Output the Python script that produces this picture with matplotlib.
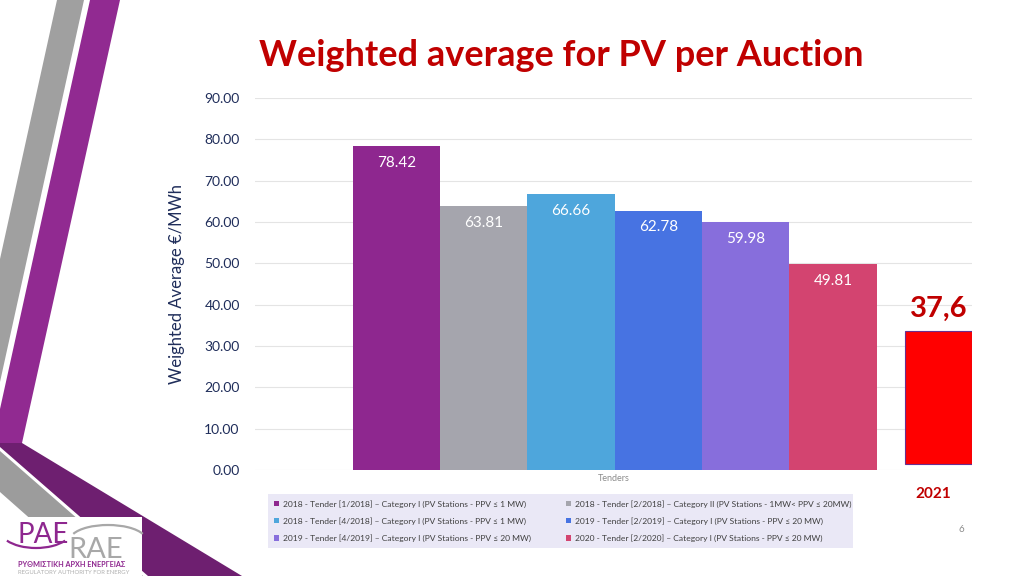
import numpy as np
import matplotlib
matplotlib.use("Agg")
import matplotlib.pyplot as plt
from matplotlib.patches import Polygon, Rectangle, Arc

plt.rcParams['font.family'] = ['Lato', 'DejaVu Sans']

# data
series_labels = [
    "2018 - Tender [1/2018] – Category I (PV Stations - PPV ≤ 1 MW)",
    "2018 - Tender [2/2018] – Category II (PV Stations - 1MW< PPV ≤ 20MW)",
    "2018 - Tender [4/2018] – Category I (PV Stations - PPV ≤ 1 MW)",
    "2019 - Tender [2/2019] – Category I (PV Stations - PPV ≤ 20 MW)",
    "2019 - Tender [4/2019] – Category I (PV Stations - PPV ≤ 20 MW)",
    "2020 - Tender [2/2020] – Category I (PV Stations - PPV ≤ 20 MW)",
]
series_values = [78.42, 63.81, 66.66, 62.78, 59.98, 49.81]
series_colors = ["#8E278F", "#A5A5AD", "#4EA6DC", "#4773E2", "#876EDC", "#D34470"]
y_ticks = [0, 10, 20, 30, 40, 50, 60, 70, 80, 90]

# 2021 box drawn on top of the chart
red_label = "37,6"
red_year = "2021"
red_bottom = 1.45
red_top = 33.6

W, H = 1024, 576
fig = plt.figure(figsize=(W / 100, H / 100), dpi=100)
fig.patch.set_facecolor("white")

# slide decoration (pixel coordinates)
bg = fig.add_axes([0, 0, 1, 1], zorder=-5)
bg.set_xlim(0, W)
bg.set_ylim(H, 0)
bg.axis("off")
bg.add_patch(Polygon([(57, 0), (84, 0), (0, 382), (0, 259)], closed=True, color="#A0A0A0", lw=0))
bg.add_patch(Polygon([(90, 0), (120, 0), (22, 443), (0, 443), (0, 409)], closed=True, color="#912A91", lw=0))
bg.add_patch(Polygon([(0, 451), (143, 576), (95, 576), (0, 492)], closed=True, color="#9C9C9C", lw=0))
bg.add_patch(Polygon([(0, 443), (22, 443), (242, 576), (148, 576), (0, 447)], closed=True, color="#6E1F70", lw=0))

# logo
bg.add_patch(Rectangle((0, 517), 142, 59, color="white", lw=0, zorder=3))
bg.add_patch(Arc((36, 530), 72, 36, theta1=20, theta2=160, color="#8E278F", lw=1.6, zorder=4))
bg.add_patch(Arc((108, 540), 76, 30, theta1=190, theta2=350, color="#A8A8A8", lw=1.6, zorder=4))
bg.text(17, 543, "PAE", fontsize=20, color="#8E278F", zorder=5, va="baseline")
bg.text(68, 558, "RAE", fontsize=21, color="#A8A8A8", zorder=5, va="baseline")
bg.text(18, 567, "ΡΥΘΜΙΣΤΙΚΗ ΑΡΧΗ ΕΝΕΡΓΕΙΑΣ", fontsize=5.2, color="#8E278F",
        weight="bold", zorder=5, va="baseline")
bg.text(18, 574, "REGULATORY AUTHORITY FOR ENERGY", fontsize=4.3, color="#B0B0B0",
        zorder=5, va="baseline")

# legend background
bg.add_patch(Rectangle((268, 494), 585, 54, color="#EAE8F6", lw=0))
bg.text(961, 529, "6", fontsize=7, color="#8C8C8C", ha="center", va="center")

# title
fig.text(561 / W, 1 - 56 / H, "Weighted average for PV per Auction", fontsize=26,
         weight="bold", color="#C00000", ha="center", va="center")

ax = fig.add_axes([255 / W, 1 - 470 / H, (972 - 255) / W, (470 - 98) / H])
ax.set_facecolor("none")

x_pos = np.arange(len(series_values)) - 2.5
bars = []
for i in range(len(series_values)):
    b = ax.bar(x_pos[i], series_values[i], width=1.0, color=series_colors[i],
               label=series_labels[i], zorder=2)
    bars.append(b[0])
    ax.annotate(f"{series_values[i]:.2f}", xy=(x_pos[i], series_values[i]),
                xytext=(0, -12), textcoords="offset points", ha="center", va="center",
                color="white", fontsize=11)

red_x = 3.71
ax.bar(red_x, red_top - red_bottom, bottom=red_bottom, width=0.77, color="#FF0000",
       edgecolor="#6A2E8E", linewidth=0.8, zorder=3)
ax.annotate(red_label, xy=(red_x, red_top), xytext=(0, 16), textcoords="offset points",
            ha="center", va="center", color="#C00000", fontsize=21, weight="bold")
ax.annotate(red_year, xy=(red_x, 0), xytext=(-4, -17), textcoords="offset points",
            ha="center", va="center", color="#C00000", fontsize=11, weight="bold")

ax.set_xlim(-4.12, 4.09)
ax.set_ylim(0, 90)
ax.set_yticks(y_ticks)
ax.set_yticklabels([f"{t:.2f}" for t in y_ticks])
ax.tick_params(axis="y", length=0, pad=11, labelsize=10, labelcolor="#1F2D5A")
ax.set_xticks([])
ax.set_xlabel("Tenders", fontsize=6.5, color="#8C8C8C", labelpad=3)
ax.set_ylabel("Weighted Average €/MWh", fontsize=12, color="#1F2D5A", labelpad=14)
ax.yaxis.grid(True, color="#E4E4E4", linewidth=0.8)
ax.set_axisbelow(True)
for s in ax.spines.values():
    s.set_visible(False)

order = [0, 2, 4, 1, 3, 5]
leg = fig.legend([bars[i] for i in order], [series_labels[i] for i in order],
                 loc="upper left", bbox_to_anchor=(272 / W, 1 - 498 / H), ncol=2,
                 frameon=False, fontsize=6.1, handlelength=0.6, handleheight=0.6,
                 handletextpad=0.5, labelspacing=1.12, columnspacing=4.1,
                 borderaxespad=0, borderpad=0.2)
for t in leg.get_texts():
    t.set_color("#404040")

fig.savefig("out.png", dpi=100)
